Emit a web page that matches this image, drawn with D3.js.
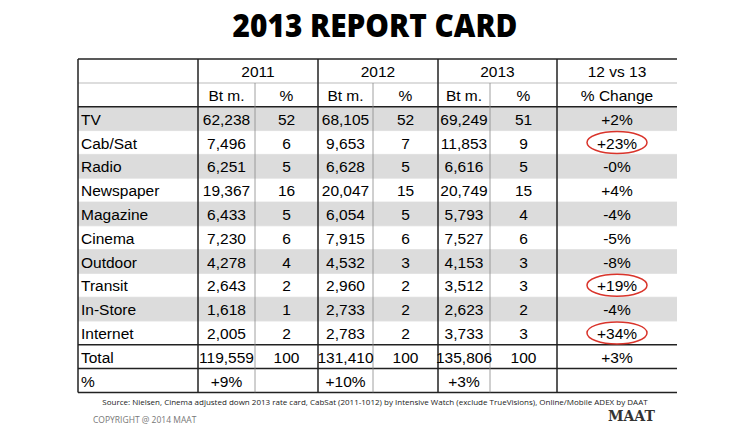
<!DOCTYPE html>
<html><head><meta charset="utf-8">
<script src="https://cdn.jsdelivr.net/npm/d3@7"></script>
<style>body{margin:0;background:#fff}</style>
</head><body><svg id="c" width="750" height="430"></svg>
<script>
const media = ['TV','Cab/Sat','Radio','Newspaper','Magazine','Cinema','Outdoor','Transit','In-Store','Internet'];
const bt2011 = ['62,238','7,496','6,251','19,367','6,433','7,230','4,278','2,643','1,618','2,005'];
const pc2011 = [52,6,5,16,5,6,4,2,1,2];
const bt2012 = ['68,105','9,653','6,628','20,047','6,054','7,915','4,532','2,960','2,733','2,783'];
const pc2012 = [52,7,5,15,5,6,3,2,2,2];
const bt2013 = ['69,249','11,853','6,616','20,749','5,793','7,527','4,153','3,512','2,623','3,733'];
const pc2013 = [51,9,5,15,4,6,3,3,2,3];
const change = ['+2%','+23%','-0%','+4%','-4%','-5%','-8%','+19%','-4%','+34%'];
const circled = ['Cab/Sat','Transit','Internet'];
const totalRow = ['Total','119,559','100','131,410','100','135,806','100','+3%'];
const growthRow = ['%','+9%','','+10%','','+3%','',''];
const years = ['2011','2012','2013','12 vs 13'];
const subHeads = ['','Bt m.','%','Bt m.','%','Bt m.','%','% Change'];

const colEdges = [78,198,255,318,373,438,490,557,677];
const svg = d3.select('#c');
const font = 'Liberation Sans, Arial, sans-serif';

svg.append('text').attr('x',375).attr('y',37).attr('text-anchor','middle')
  .attr('font-family','Open Sans, sans-serif').attr('font-weight',800).attr('font-size',31)
  .attr('transform','translate(375,0) scale(0.96,1) translate(-375,0)')
  .text('2013 REPORT CARD');

const rows = [subHeads, ...media.map((m,i)=>[m,bt2011[i],pc2011[i],bt2012[i],pc2012[i],bt2013[i],pc2013[i],change[i]]), totalRow, growthRow];
const y = d3.scaleLinear().domain([0,1]).range([83,106.8]);
const tableTop = 59;

// grey stripes
media.forEach((m,i)=>{ if(i%2===0) svg.append('rect').attr('x',78).attr('y',y(i+1)).attr('width',599).attr('height',y(1)-y(0)).attr('fill','#dcdcdc'); });

// horizontal lines
const hl = (yy,w,c)=>svg.append('line').attr('x1',78).attr('x2',677).attr('y1',yy).attr('y2',yy).attr('stroke',c).attr('stroke-width',w);
hl(tableTop,1.5,'#222');
hl(y(0),1,'#bbb');
for(let i=1;i<=12;i++) hl(y(i), (i===1||i===11||i===12)?1.5:0.8, (i===1||i===11||i===12)?'#222':'#ddd');
hl(y(13),1.5,'#222');

// vertical lines
colEdges.forEach((x,j)=>{
  if(j===8) return;
  const minor = [2,4,6].includes(j);
  svg.append('line').attr('x1',x).attr('x2',x).attr('y1',minor?y(0):tableTop).attr('y2',y(13))
    .attr('stroke', minor?'#888':'#222').attr('stroke-width', minor?0.8:1.5);
});

// year headers
years.forEach((t,k)=>{
  const x0 = colEdges[1+2*k], x1 = k===3 ? colEdges[8] : colEdges[3+2*k];
  svg.append('text').attr('x',(x0+x1)/2).attr('y',(tableTop+y(0))/2+6).attr('text-anchor','middle')
    .attr('font-family',font).attr('font-size',15.5).text(t);
});

// cells
rows.forEach((r,i)=>{
  r.forEach((v,j)=>{
    const x = j===0 ? colEdges[0]+3 : (j===7 ? (colEdges[7]+colEdges[8])/2 : (colEdges[j]+colEdges[j+1])/2);
    svg.append('text').attr('x',x).attr('y',(y(i)+y(i+1))/2+6)
      .attr('text-anchor', j===0?'start':'middle')
      .attr('font-family',font).attr('font-size',15.5).text(v);
  });
  if(circled.includes(r[0])) svg.append('ellipse').attr('cx',(colEdges[7]+colEdges[8])/2).attr('cy',(y(i)+y(i+1))/2)
    .attr('rx',30).attr('ry',11).attr('fill','none').attr('stroke','#d9342b').attr('stroke-width',1.5);
});

svg.append('text').attr('x',375).attr('y',405).attr('text-anchor','middle').attr('font-family','Open Sans, sans-serif')
  .attr('font-size',8).attr('fill','#222').text('Source: Nielsen, Cinema adjusted down 2013 rate card, CabSat (2011-1012) by Intensive Watch (exclude TrueVisions), Online/Mobile ADEX by DAAT');
svg.append('text').attr('x',93).attr('y',423).attr('font-family','Open Sans, sans-serif')
  .attr('font-size',8.5).attr('fill','#777').text('COPYRIGHT @ 2014 MAAT');
svg.append('text').attr('x',608).attr('y',421).attr('font-family','DejaVu Serif, serif').attr('font-weight','bold')
  .attr('font-size',14).attr('fill','#333').text('MAAT');
</script></body></html>
